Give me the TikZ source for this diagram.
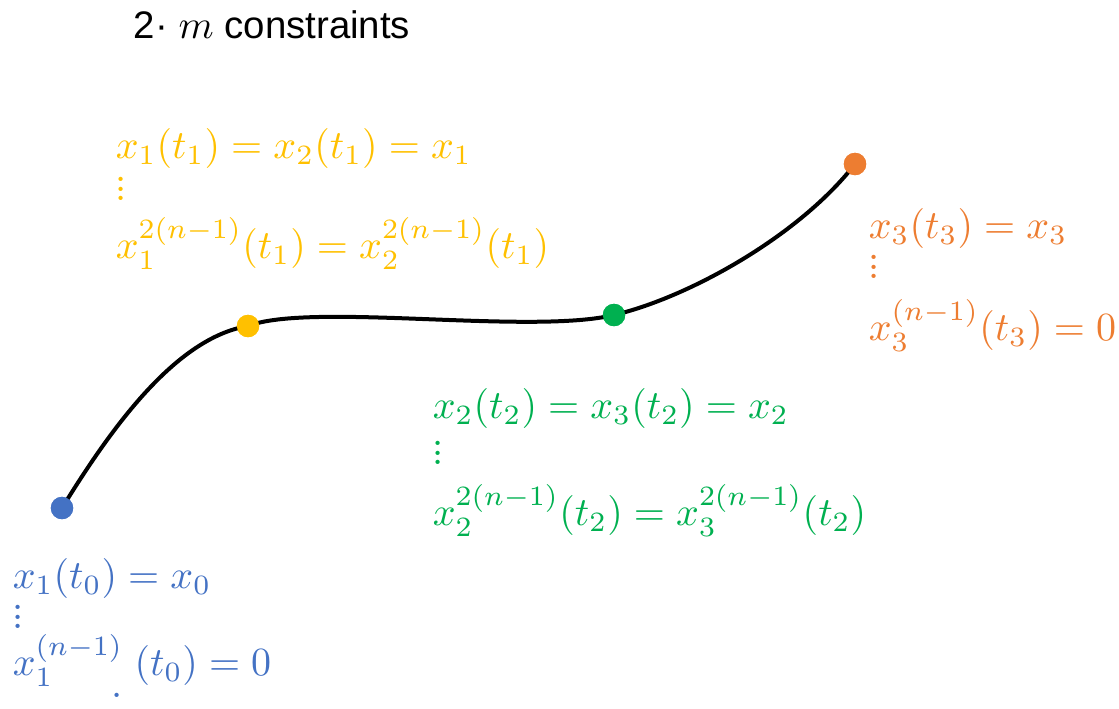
\documentclass[tikz,border=0pt]{standalone}
\usepackage{fontspec}
\setsansfont{Liberation Sans}
\definecolor{ptblue}{HTML}{4472C4}
\definecolor{ptyellow}{HTML}{FFC000}
\definecolor{ptgreen}{HTML}{00B050}
\definecolor{ptorange}{HTML}{ED7D31}
\newcommand{\smalldots}{\vbox{\baselineskip2.4pt\lineskiplimit0pt\hbox{.}\hbox{.}\hbox{.}}}
\begin{document}
\begin{tikzpicture}[x=0.25pt, y=-0.25pt, font=\fontsize{10}{12}\selectfont,
  dot/.style={circle, inner sep=0pt, minimum size=5.6pt},
  lbl/.style={anchor=north west, inner sep=0pt, align=left}]
\useasboundingbox (0,0) rectangle (1119,708);
\node[font=\fontsize{9.6}{11}\sffamily] (title) at (272,25) {2·\ $m$ constraints};
% the trajectory and its knots
\node[dot, fill=ptblue] (p0) at (62,508) {};
\node[dot, fill=ptyellow] (p1) at (248,326) {};
\node[dot, fill=ptgreen] (p2) at (614,315) {};
\node[dot, fill=ptorange] (p3) at (855,164) {};
\draw[line width=1pt] (p0.center) .. controls (110,430) and (175,338) .. (p1.center)
  .. controls (310,302) and (530,335) .. (p2.center)
  .. controls (690,297) and (800,235) .. (p3.center);
\fill[ptblue] (p0) circle (2.8pt);
\fill[ptyellow] (p1) circle (2.8pt);
\fill[ptgreen] (p2) circle (2.8pt);
\fill[ptorange] (p3) circle (2.8pt);
% boundary and continuity constraints
\node[lbl, text=ptblue] (c0) at (12,558) {$x_1(t_0)=x_0$\\[-2pt]\smalldots\\[-0.25pt]$x_1^{(n-1)}$\hspace{-3pt}\raisebox{-5.5pt}{.}\hspace{3pt}$(t_0)=0$};
\node[lbl, text=ptyellow] (c1) at (115,128) {$x_1(t_1)=x_2(t_1)=x_1$\\[-1.5pt]\smalldots\\[2.5pt]$x_1^{2(n-1)}(t_1)=x_2^{2(n-1)}(t_1)$};
\node[lbl, text=ptgreen] (c2) at (432,388) {$x_2(t_2)=x_3(t_2)=x_2$\\[-0.5pt]\smalldots\\[3.25pt]$x_2^{2(n-1)}(t_2)=x_3^{2(n-1)}(t_2)$};
\node[lbl, text=ptorange] (c3) at (868,208) {$x_3(t_3)=x_3$\\[-2pt]\smalldots\\[3.5pt]$x_3^{(n-1)}(t_3)=0$};
\end{tikzpicture}
\end{document}
